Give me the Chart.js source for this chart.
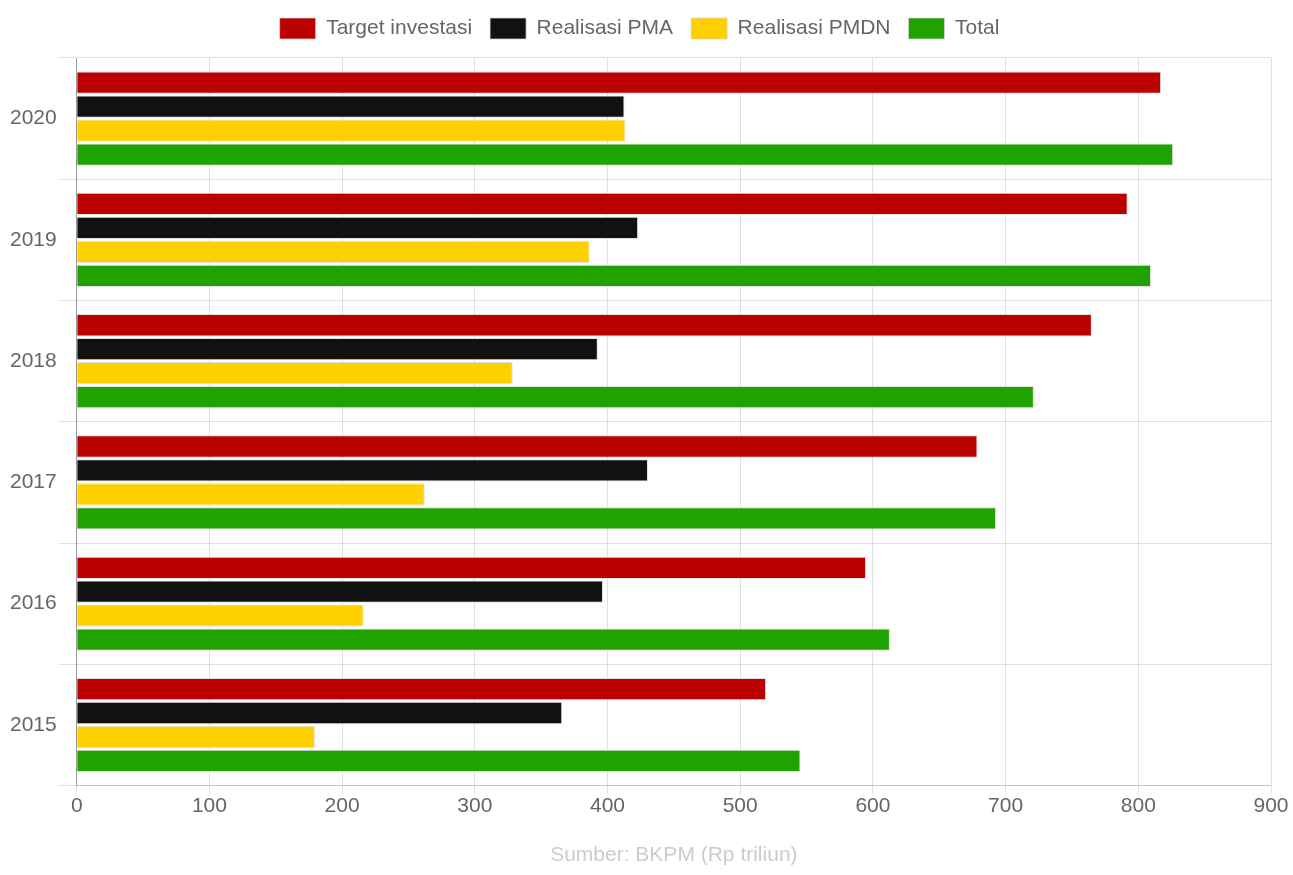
<!DOCTYPE html>
<html>
<head>
<meta charset="utf-8">
<script src="https://cdn.jsdelivr.net/npm/chart.js@4.4.0/dist/chart.umd.min.js"></script>
<style>
  html, body { margin: 0; padding: 0; background: #fff; }
  #wrap { width: 1293px; height: 875px; }
</style>
</head>
<body>
<div id="wrap"><canvas id="chart"></canvas></div>
<script>
var years = ["2020", "2019", "2018", "2017", "2016", "2015"];
var target = [817.2, 792.0, 765.0, 678.8, 594.8, 519.5];
var pma = [412.8, 423.1, 392.7, 430.5, 396.6, 365.9];
var pmdn = [413.5, 386.5, 328.6, 262.3, 216.2, 179.5];
var total = [826.3, 809.6, 721.3, 692.8, 612.8, 545.4];
var xTicks = [0, 100, 200, 300, 400, 500, 600, 700, 800, 900];

Chart.defaults.font.family = "'Liberation Sans', Arial, sans-serif";
Chart.defaults.font.size = 21;
Chart.defaults.color = "#666";

function ds(label, data, color) {
    return {
        label: label,
        data: data,
        backgroundColor: color,
        borderColor: "rgba(215,215,215,0.75)",
        borderWidth: 1
    };
}

// a bit more room under the legend
var legendGap = {
    id: "legendGap",
    afterInit: function (chart) {
        var fit = chart.legend.fit;
        chart.legend.fit = function () {
            fit.call(this);
            this.height += 9;
        };
    }
};

var ctx = document.getElementById("chart");
new Chart(ctx, {
    type: "bar",
    data: {
        labels: years,
        datasets: [
            ds("Target investasi", target, "rgb(187,0,0)"),
            ds("Realisasi PMA", pma, "rgb(17,17,17)"),
            ds("Realisasi PMDN", pmdn, "rgb(255,208,0)"),
            ds("Total", total, "rgb(32,162,0)")
        ]
    },
    plugins: [legendGap],
    options: {
        indexAxis: "y",
        responsive: true,
        maintainAspectRatio: false,
        animation: false,
        categoryPercentage: 0.79,
        barPercentage: 0.93,
        layout: { padding: { top: 0, left: 8, right: 22, bottom: 3 } },
        plugins: {
            legend: {
                position: "top",
                labels: { boxWidth: 36, boxHeight: 21, padding: 18, color: "#666" }
            },
            tooltip: { enabled: false }
        },
        scales: {
            x: {
                min: 0,
                max: 900,
                afterBuildTicks: function (axis) {
                    axis.ticks = xTicks.map(function (v) { return { value: v }; });
                },
                grid: { color: "rgba(0,0,0,0.12)" },
                border: { color: "rgba(0,0,0,0.12)" },
                ticks: { padding: 0 },
                title: {
                    display: true,
                    text: "Sumber: BKPM (Rp triliun)",
                    color: "#ccc",
                    font: { size: 21 },
                    padding: { top: 24, bottom: 4 }
                }
            },
            y: {
                grid: { color: "rgba(0,0,0,0.12)", tickLength: 18 },
                border: { color: "#999" },
                ticks: { padding: 2 }
            }
        }
    }
});
</script>
</body>
</html>
